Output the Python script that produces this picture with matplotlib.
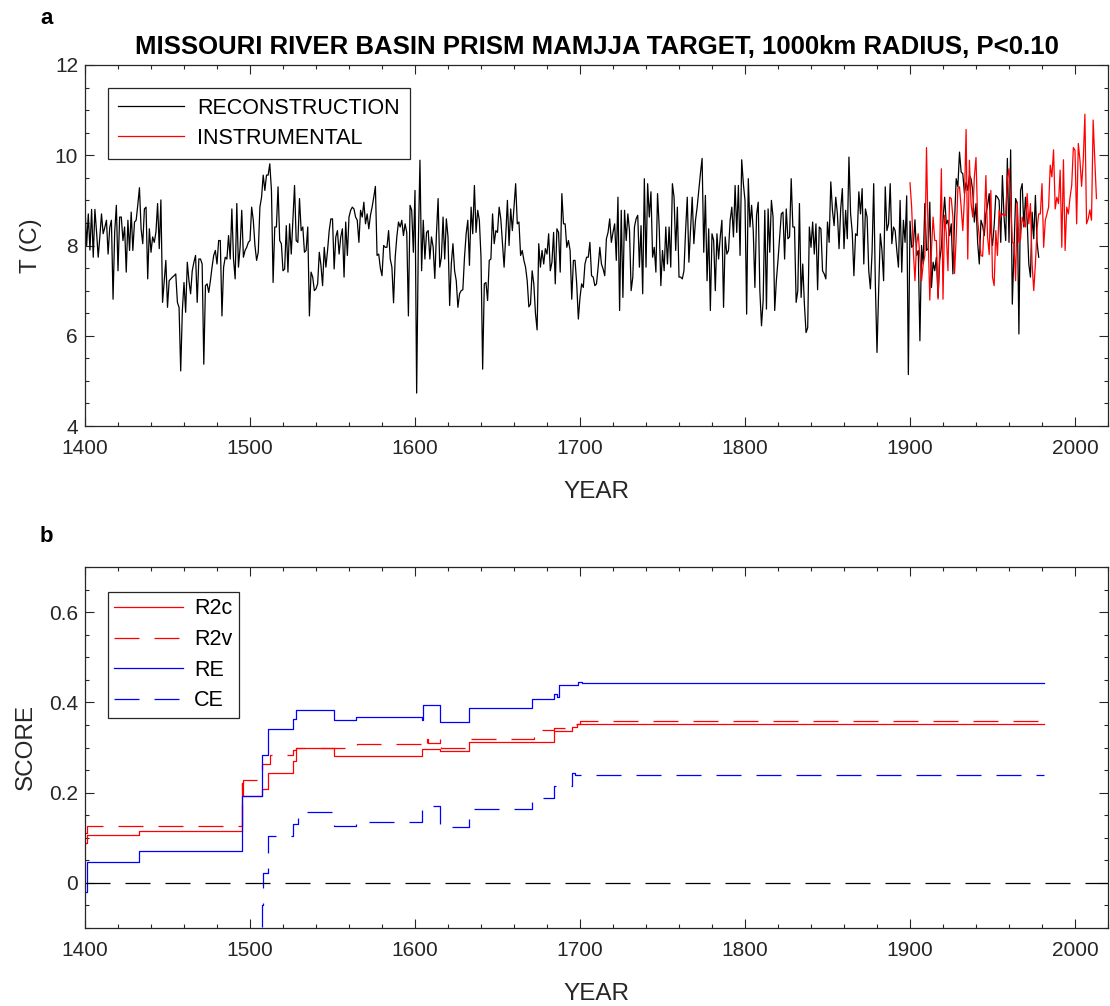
import numpy as np
import matplotlib
matplotlib.use("Agg")
import matplotlib.pyplot as plt
from matplotlib.ticker import MultipleLocator

# ── Reconstruction, annual values from 1400 (one row per decade) ─────────────
recon_start = 1400
recon = [
    8.85, 8.0, 8.7, 7.9, 8.8, 7.74, 8.8, 8.3, 7.74, 8.2,
    8.7, 8.26, 8.4, 8.56, 7.81, 8.4, 8.56, 6.81, 8.3, 8.89,
    7.44, 8.63, 8.63, 8.11, 8.41, 7.41, 8.56, 7.89, 8.74, 7.89,
    8.52, 8.56, 8.9, 9.28, 8.37, 8.04, 8.81, 8.85, 7.26, 8.37,
    7.85, 8.19, 8.07, 8.3, 8.93, 7.93, 9.01, 6.74, 7.2, 7.67,
    6.63, 7.22, 7.26, 7.30, 7.33, 7.37, 6.74, 6.63, 5.22, 6.56,
    7.18, 6.52, 7.63, 7.22, 6.93, 7.44, 7.63, 7.78, 6.74, 7.70,
    7.70, 7.59, 5.37, 7.11, 7.15, 6.96, 7.22, 7.52, 7.78, 7.89,
    7.59, 8.11, 8.11, 6.44, 7.52, 7.74, 7.70, 8.22, 7.70, 8.81,
    7.70, 7.26, 8.93, 7.52, 7.96, 8.78, 7.74, 7.89, 7.96, 8.07,
    8.11, 8.85, 8.56, 8.0, 7.67, 7.85, 8.85, 9.07, 9.56, 9.22,
    9.56, 9.56, 9.81, 9.22, 7.18, 8.41, 8.41, 9.30, 8.11, 8.04,
    7.44, 7.48, 8.44, 7.41, 8.48, 7.81, 8.59, 9.33, 8.11, 8.07,
    9.04, 8.33, 8.41, 7.85, 7.89, 8.41, 6.44, 7.41, 7.30, 7.0,
    7.04, 7.15, 7.85, 7.56, 7.11, 7.96, 7.52, 7.89, 8.33, 8.59,
    8.59, 7.48, 8.19, 8.33, 7.81, 8.19, 8.37, 7.30, 8.52, 7.78,
    8.63, 8.78, 8.85, 8.81, 8.63, 8.56, 8.07, 8.78, 8.63, 8.96,
    8.48, 8.70, 8.37, 8.67, 8.85, 9.07, 9.31, 7.78, 7.81, 7.5,
    7.33, 8.0, 7.96, 7.96, 8.33, 7.7, 7.52, 6.73, 7.74, 8.2,
    8.52, 8.41, 8.56, 8.22, 8.48, 8.29, 6.44, 8.89, 8.78, 7.85,
    9.22, 4.73, 8.0, 9.89, 7.44, 8.56, 7.70, 8.29, 8.33, 7.70,
    8.19, 7.96, 7.27, 8.26, 9.04, 7.52, 7.74, 8.63, 7.70, 8.59,
    8.19, 6.67, 7.59, 8.04, 7.44, 7.22, 6.63, 6.93, 7.0, 7.02,
    7.74, 8.26, 8.56, 7.56, 8.85, 8.26, 9.33, 8.29, 8.78, 8.56,
    7.74, 5.26, 7.15, 7.18, 6.78, 7.67, 7.70, 8.70, 8.04, 8.33,
    8.29, 8.85, 8.59, 8.04, 7.52, 8.22, 9.0, 8.0, 8.81, 8.33,
    8.85, 9.37, 8.48, 8.52, 7.78, 7.89, 7.67, 7.52, 7.22, 6.64,
    6.70, 7.44, 7.15, 6.5, 6.13, 8.04, 7.52, 7.89, 7.59, 7.93,
    7.81, 8.26, 7.44, 7.63, 8.29, 7.15, 8.37, 8.29, 7.41, 9.15,
    8.48, 8.48, 7.96, 8.11, 7.89, 6.81, 7.67, 7.67, 7.15, 6.37,
    6.85, 7.15, 7.07, 7.59, 7.74, 7.74, 8.07, 7.33, 7.30, 7.11,
    7.15, 7.52, 7.96, 7.59, 7.48, 7.33, 8.15, 8.29, 8.59, 8.07,
    8.29, 8.48, 7.67, 9.07, 6.56, 8.78, 6.85, 8.78, 8.11, 8.70,
    8.33, 7.0, 7.30, 8.41, 8.59, 8.67, 7.52, 8.44, 6.93, 9.48,
    7.52, 9.37, 8.63, 9.19, 7.74, 7.96, 7.41, 9.15, 8.41, 7.11,
    7.89, 7.44, 8.41, 7.59, 8.41, 7.52, 9.37, 9.07, 7.89, 8.85,
    7.30, 7.30, 7.26, 7.44, 8.33, 9.07, 7.63, 8.37, 9.07, 8.04,
    8.56, 8.85, 9.22, 9.6, 9.93, 7.85, 9.11, 7.22, 8.37, 6.56,
    8.26, 8.11, 7.0, 8.26, 7.70, 8.19, 8.56, 6.63, 8.19, 7.81,
    7.89, 8.56, 8.85, 8.19, 9.33, 8.29, 9.33, 7.78, 9.90, 9.37,
    9.0, 6.48, 9.48, 8.41, 8.89, 8.33, 7.07, 8.67, 8.96, 7.0,
    6.22, 6.78, 8.78, 6.59, 8.81, 7.85, 9.0, 8.63, 6.56, 7.22,
    7.67, 8.19, 8.70, 8.74, 7.70, 8.81, 8.15, 8.19, 9.48, 8.41,
    8.41, 6.74, 7.0, 8.93, 6.85, 7.59, 6.70, 6.07, 6.18, 8.41,
    7.96, 8.52, 7.81, 8.48, 7.02, 8.41, 8.37, 7.44, 7.37, 7.26,
    8.52, 8.07, 9.41, 8.78, 8.44, 9.07, 8.70, 7.93, 8.81, 9.26,
    7.93, 8.78, 8.15, 9.96, 8.70, 8.29, 7.33, 8.26, 8.22, 9.19,
    8.70, 9.26, 7.59, 8.81, 8.63, 7.44, 7.04, 7.85, 9.37, 7.15,
    5.63, 7.0, 8.26, 7.89, 7.22, 9.30, 8.33, 8.48, 9.37, 8.04,
    8.41, 8.33, 7.89, 7.52, 9.0, 7.41, 8.56, 8.07, 9.1, 5.14,
    8.54, 7.96, 8.0, 8.57, 7.78, 7.89, 5.89, 8.0, 7.59, 8.93,
    7.89, 7.93, 8.96, 7.07, 7.63, 7.44, 7.74, 6.85, 7.67, 7.96,
    8.56, 9.07, 8.48, 8.56, 8.22, 8.48, 7.37, 8.56, 9.48, 9.30,
    10.07, 9.63, 9.59, 9.15, 9.4, 9.22, 9.55, 9.48, 9.22, 8.52,
    8.93, 8.07, 7.59, 8.56, 8.44, 8.22, 8.70, 8.89, 9.15, 8.29,
    8.0, 8.44, 9.11, 9.07, 9.0, 8.07, 9.55, 8.63, 8.11, 9.93,
    8.07, 10.12, 6.70, 7.89, 9.04, 8.93, 6.04, 9.22, 9.37, 8.41,
    9.07, 8.56, 7.59, 7.30, 8.74, 8.15, 9.11, 8.07, 7.74,
]

# ── Instrumental, annual values from 1900 ────────────────────────────────────
instr_start = 1900
instr = [
    9.39, 8.85, 7.89, 7.22, 8.04, 8.26, 7.74, 7.22, 7.59, 7.78,
    10.17, 8.19, 6.79, 7.89, 8.63, 8.11, 8.11, 6.81, 7.89, 9.70,
    6.81, 8.67, 8.26, 7.44, 9.07, 9.04, 8.63, 7.38, 8.19, 9.26,
    9.30, 8.85, 8.33, 9.04, 10.57, 7.70, 9.89, 8.93, 8.63, 9.52,
    9.95, 8.56, 8.19, 7.78, 7.76, 8.48, 9.55, 8.19, 7.80, 9.22,
    7.30, 7.11, 8.33, 7.78, 8.78, 8.63, 8.70, 8.67, 8.67, 9.48,
    9.70, 9.04, 8.07, 8.04, 7.22, 8.96, 8.07, 8.15, 8.63, 8.48,
    8.41, 9.15, 8.48, 8.93, 7.59, 7.0, 7.59, 8.37, 8.70, 8.70,
    9.37, 7.96, 8.56, 8.70, 8.85, 9.78, 9.52, 10.12, 8.81, 9.07,
    8.93, 9.67, 7.96, 9.90, 7.89, 8.85, 8.70, 9.07, 9.33, 10.17,
    10.11, 8.48, 10.26, 9.89, 9.31, 9.89, 10.91, 8.48, 8.59, 8.79,
    8.56, 10.78, 9.89, 9.04,
]

# ── Verification scores: step breakpoints (year, value) ──────────────────────
r2c_years = [1400, 1401, 1433, 1495, 1496, 1507, 1511, 1526, 1528, 1551,
             1604, 1615, 1633, 1684, 1695, 1698, 1981]
r2c_vals  = [0.089, 0.107, 0.114, 0.222, 0.192, 0.209, 0.244, 0.27, 0.300, 0.282,
             0.297, 0.293, 0.312, 0.336, 0.345, 0.352, 0.352]

r2v_years = [1400, 1401, 1433, 1495, 1496, 1507, 1512, 1526, 1528, 1565,
             1604, 1607, 1608, 1615, 1616, 1633, 1672, 1684, 1692, 1700, 1981]
r2v_vals  = [0.11, 0.127, 0.125, 0.222, 0.229, 0.264, 0.284, 0.295, 0.300, 0.308,
             0.300, 0.318, 0.310, 0.325, 0.300, 0.318, 0.338, 0.343, 0.352, 0.358, 0.358]

re_years = [1400, 1401, 1433, 1495, 1507, 1511, 1526, 1528, 1551, 1564,
            1604, 1605, 1615, 1633, 1671, 1684, 1686, 1687, 1699, 1701, 1981]
re_vals  = [-0.02, 0.047, 0.071, 0.192, 0.284, 0.341, 0.363, 0.384, 0.362, 0.368,
            0.362, 0.394, 0.357, 0.387, 0.407, 0.418, 0.412, 0.438, 0.446, 0.442, 0.442]

ce_years = [1400, 1495, 1507, 1508, 1511, 1526, 1529, 1551, 1564,
            1604, 1615, 1633, 1671, 1684, 1695, 1697, 1981]
ce_vals  = [-0.6, -0.3, -0.05, 0.022, 0.103, 0.13, 0.158, 0.127, 0.136,
            0.171, 0.123, 0.163, 0.187, 0.215, 0.244, 0.238, 0.238]

# ── Style ────────────────────────────────────────────────────────────────────
TXT   = "#262626"
RED   = "#FF0000"
BLUE  = "#0000FF"
DASH  = (0, (20, 12))
TICK_FS  = 15
LABEL_FS = 17.5
LEG_FS   = 15.5

plt.rcParams.update({
    "font.family":      ["Liberation Sans", "DejaVu Sans"],
    "font.size":        TICK_FS,
    "axes.edgecolor":   TXT,
    "axes.linewidth":   0.9,
    "xtick.color":      TXT,
    "ytick.color":      TXT,
    "xtick.direction":  "in",
    "ytick.direction":  "in",
    "xtick.top":        True,
    "ytick.right":      True,
    "xtick.major.size": 6.5,
    "ytick.major.size": 6.5,
    "xtick.minor.size": 3.2,
    "ytick.minor.size": 3.2,
    "xtick.major.pad":  9,
    "ytick.major.pad":  5,
    "xtick.labelsize":  TICK_FS,
    "ytick.labelsize":  TICK_FS,
    "legend.fontsize":  LEG_FS,
})

W, H = 1110, 1006
fig = plt.figure(figsize=(W / 100, H / 100), dpi=100)
ax1 = fig.add_axes([85 / W, 1 - 426 / H, 1023 / W, 361 / H])
ax2 = fig.add_axes([85 / W, 1 - 928 / H, 1023 / W, 361 / H])


def style_axes(ax):
    ax.set_xlim(1400, 2020)
    ax.xaxis.set_major_locator(MultipleLocator(100))
    ax.xaxis.set_minor_locator(MultipleLocator(20))
    ax.tick_params(which="both", width=0.8)
    ax.set_xlabel("YEAR", fontsize=LABEL_FS, color=TXT, labelpad=17)


# ─── Panel (a) ────────────────────────────────────────────────────────────────
yr_recon = recon_start + np.arange(len(recon))
yr_instr = instr_start + np.arange(len(instr))
ax1.plot(yr_recon, recon, color="black", lw=0.9, label="RECONSTRUCTION")
ax1.plot(yr_instr, instr, color=RED, lw=0.9, label="INSTRUMENTAL")
style_axes(ax1)
ax1.set_ylim(4, 12)
ax1.yaxis.set_major_locator(MultipleLocator(2))
ax1.yaxis.set_minor_locator(MultipleLocator(0.5))
ax1.set_ylabel("T (C)", fontsize=LABEL_FS, color=TXT, labelpad=9)
ax1.set_title("MISSOURI RIVER BASIN PRISM MAMJJA TARGET, 1000km RADIUS, P<0.10",
              fontsize=18.5, fontweight="bold", pad=8)
leg = ax1.legend(loc="upper left", bbox_to_anchor=(0.0225, 0.936),
                 borderaxespad=0, handlelength=3.1, handletextpad=0.6,
                 borderpad=0.45, labelspacing=0.42, fancybox=False,
                 framealpha=1)
leg.get_frame().set_edgecolor(TXT)
leg.get_frame().set_linewidth(0.9)

# ─── Panel (b) ────────────────────────────────────────────────────────────────
ax2.plot(r2c_years, r2c_vals, color=RED, lw=0.9, drawstyle="steps-post", label="R2c")
ax2.plot(r2v_years, r2v_vals, color=RED, lw=0.9, ls=DASH, drawstyle="steps-post", label="R2v")
ax2.plot(re_years, re_vals, color=BLUE, lw=0.9, drawstyle="steps-post", label="RE")
ax2.plot(ce_years, ce_vals, color=BLUE, lw=0.9, ls=DASH, drawstyle="steps-post", label="CE")
ax2.axhline(0, color="black", lw=0.9, ls=DASH)
style_axes(ax2)
ax2.set_ylim(-0.1, 0.7)
ax2.set_yticks([0, 0.2, 0.4, 0.6])
ax2.set_yticklabels(["0", "0.2", "0.4", "0.6"])
ax2.yaxis.set_minor_locator(MultipleLocator(0.05))
ax2.set_ylabel("SCORE", fontsize=LABEL_FS, color=TXT, labelpad=9)
leg2 = ax2.legend(loc="upper left", bbox_to_anchor=(0.0225, 0.931),
                  borderaxespad=0, handlelength=3.2, handletextpad=0.5,
                  borderpad=0.3, labelspacing=0.45, fancybox=False,
                  framealpha=1)
leg2.get_frame().set_edgecolor(TXT)
leg2.get_frame().set_linewidth(0.9)

# Panel letters
fig.text(40 / W, 1 - 18 / H, "a", fontsize=16, fontweight="bold", va="center")
fig.text(40 / W, 1 - 537 / H, "b", fontsize=16, fontweight="bold", va="center")

fig.savefig("out.png", dpi=100)
